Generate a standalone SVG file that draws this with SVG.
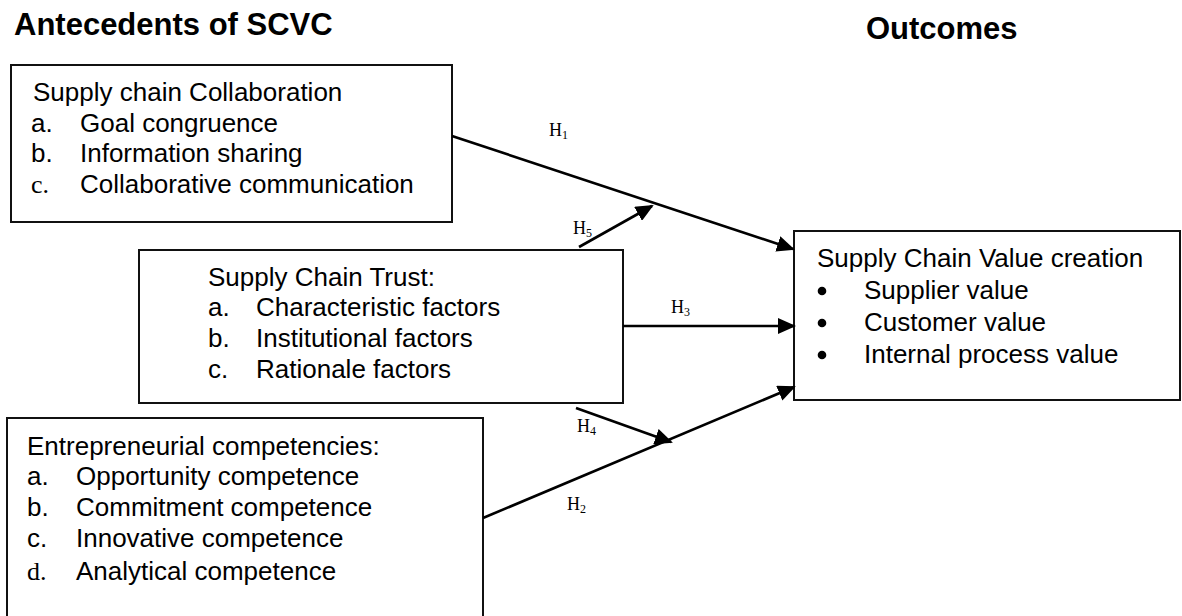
<svg xmlns="http://www.w3.org/2000/svg" width="1182" height="616" viewBox="0 0 1182 616">
  <style>
    .box { fill: #ffffff; stroke: #111111; stroke-width: 2; }
    .title { font-family: "Liberation Sans", Arial, sans-serif; font-weight: bold; font-size: 31px; fill: #000000; }
    .txt { font-family: "Liberation Sans", Arial, sans-serif; font-size: 26px; fill: #000000; }
    .ser { font-family: "Liberation Serif", "Times New Roman", serif; font-size: 26px; fill: #000000; }
    .hyp { font-family: "Liberation Serif", "Times New Roman", serif; font-size: 18px; fill: #000000; }
    .sub { font-size: 12px; }
    .edge { stroke: #000000; stroke-width: 2.6; fill: none; marker-end: url(#arrow); }
  </style>
  <defs>
    <marker id="arrow" markerUnits="userSpaceOnUse" markerWidth="18" markerHeight="16" refX="16" refY="8" orient="auto">
      <path d="M0,0 L18,8 L0,16 z" fill="#000000"/>
    </marker>
  </defs>

  <rect width="1182" height="616" fill="#ffffff"/>

  <!-- column headings -->
  <text class="title" x="14" y="35">Antecedents of SCVC</text>
  <text class="title" x="866" y="39">Outcomes</text>

  <!-- antecedent: collaboration -->
  <g id="node-collaboration">
    <rect class="box" x="11" y="65" width="441" height="157"/>
    <text class="txt" x="33" y="101">Supply chain Collaboration</text>
    <text class="txt" x="31" y="132">a.</text>
    <text class="txt" x="80" y="132">Goal congruence</text>
    <text class="txt" x="31" y="162">b.</text>
    <text class="txt" x="80" y="162">Information sharing</text>
    <text class="ser" x="31" y="193">c.</text>
    <text class="txt" x="80" y="193">Collaborative communication</text>
  </g>

  <!-- antecedent: trust -->
  <g id="node-trust">
    <rect class="box" x="139" y="250" width="484" height="153"/>
    <text class="txt" x="208" y="286">Supply Chain Trust:</text>
    <text class="txt" x="208" y="316">a.</text>
    <text class="txt" x="256" y="316">Characteristic factors</text>
    <text class="txt" x="208" y="347">b.</text>
    <text class="txt" x="256" y="347">Institutional factors</text>
    <text class="txt" x="208" y="378">c.</text>
    <text class="txt" x="256" y="378">Rationale factors</text>
  </g>

  <!-- antecedent: entrepreneurial competencies -->
  <g id="node-competencies">
    <rect class="box" x="7" y="418" width="476" height="204"/>
    <text class="txt" x="27" y="455">Entrepreneurial competencies:</text>
    <text class="txt" x="27" y="485">a.</text>
    <text class="txt" x="76" y="485">Opportunity competence</text>
    <text class="txt" x="27" y="516">b.</text>
    <text class="txt" x="76" y="516">Commitment competence</text>
    <text class="txt" x="27" y="547">c.</text>
    <text class="txt" x="76" y="547">Innovative competence</text>
    <text class="ser" x="27" y="580" font-size="28">d.</text>
    <text class="txt" x="76" y="580">Analytical competence</text>
  </g>

  <!-- outcome -->
  <g id="node-value-creation">
    <rect class="box" x="794" y="231" width="386" height="169"/>
    <text class="txt" x="817" y="267">Supply Chain Value creation</text>
    <circle cx="822" cy="291" r="4.3" fill="#000000"/>
    <text class="txt" x="864" y="299">Supplier value</text>
    <circle cx="822" cy="323" r="4.3" fill="#000000"/>
    <text class="txt" x="864" y="331">Customer value</text>
    <circle cx="822" cy="355" r="4.3" fill="#000000"/>
    <text class="txt" x="864" y="363">Internal process value</text>
  </g>

  <!-- hypothesised paths -->
  <g id="connectors">
    <line class="edge" x1="452" y1="136" x2="793" y2="249"/>
    <line class="edge" x1="579" y1="247" x2="652" y2="206"/>
    <line class="edge" x1="623" y1="326" x2="794" y2="326"/>
    <line class="edge" x1="576" y1="408" x2="671" y2="442"/>
    <line class="edge" x1="483" y1="518" x2="794" y2="387"/>
    <text class="hyp" x="549" y="136">H<tspan class="sub" dy="3">1</tspan></text>
    <text class="hyp" x="573" y="234">H<tspan class="sub" dy="3">5</tspan></text>
    <text class="hyp" x="671" y="313">H<tspan class="sub" dy="3">3</tspan></text>
    <text class="hyp" x="577" y="432">H<tspan class="sub" dy="3">4</tspan></text>
    <text class="hyp" x="567" y="510">H<tspan class="sub" dy="3">2</tspan></text>
  </g>
</svg>
